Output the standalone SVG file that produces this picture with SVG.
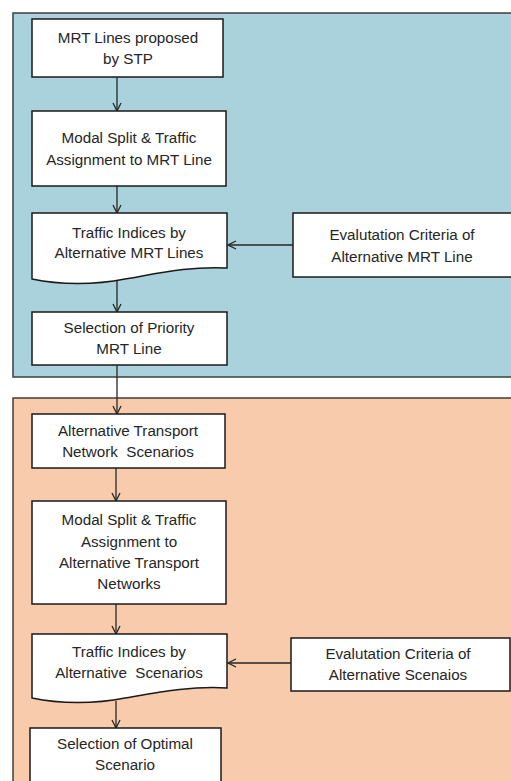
<svg xmlns="http://www.w3.org/2000/svg" width="511" height="781" viewBox="0 0 511 781">
  <defs>
    <marker id="arrow" viewBox="0 0 10 10" refX="9" refY="5" markerWidth="10" markerHeight="10" markerUnits="userSpaceOnUse" orient="auto">
      <path d="M1,1 L9,5 L1,9" fill="none" stroke="#262626" stroke-width="1.3"/>
    </marker>
  </defs>
  <style>
    .panel { stroke: #3f3f3f; stroke-width: 1.5; }
    .box { fill: #ffffff; stroke: #1a1a1a; stroke-width: 1.5; }
    .lbl { font-family: "Liberation Sans", Arial, sans-serif; font-size: 15.2px; fill: #262626; text-anchor: middle; white-space: pre; }
    .conn { fill: none; stroke: #262626; stroke-width: 1.3; marker-end: url(#arrow); }
  </style>
  <rect width="511" height="781" fill="#ffffff"/>

  <!-- stage panels -->
  <rect id="panel-mrt" class="panel" x="13" y="13" width="510" height="364" fill="#a9d2dd"/>
  <rect id="panel-network" class="panel" x="13" y="398" width="510" height="400" fill="#f8cbad"/>

  <!-- connectors -->
  <g id="connectors">
    <line class="conn" x1="117" y1="77" x2="117" y2="111"/>
    <line class="conn" x1="117" y1="186" x2="117" y2="213"/>
    <line class="conn" x1="293" y1="245" x2="228" y2="245"/>
    <line class="conn" x1="117" y1="281" x2="117" y2="312"/>
    <line class="conn" x1="117" y1="365" x2="117" y2="414"/>
    <line class="conn" x1="116" y1="468" x2="116" y2="501"/>
    <line class="conn" x1="116" y1="604" x2="116" y2="634"/>
    <line class="conn" x1="291" y1="663" x2="228" y2="663"/>
    <line class="conn" x1="116" y1="701" x2="116" y2="728"/>
  </g>

  <g id="mrt-lines-proposed">
    <rect class="box" x="32" y="19" width="191" height="58"/>
    <text class="lbl" x="128" y="43">MRT Lines proposed</text>
    <text class="lbl" x="128" y="64">by STP</text>
  </g>

  <g id="modal-split-mrt">
    <rect class="box" x="32" y="111" width="194" height="75"/>
    <text class="lbl" x="129" y="143">Modal Split &amp; Traffic</text>
    <text class="lbl" x="129" y="165">Assignment to MRT Line</text>
  </g>

  <g id="traffic-indices-mrt">
    <path class="box" d="M32,213 H227 V268 C190,266 160,273 125,279 C95,285 60,285 32,279 Z"/>
    <text class="lbl" x="129" y="238">Traffic Indices by</text>
    <text class="lbl" x="129" y="258">Alternative MRT Lines</text>
  </g>

  <g id="evaluation-mrt">
    <rect class="box" x="293" y="213" width="220" height="64"/>
    <text class="lbl" x="402" y="240">Evalutation Criteria of</text>
    <text class="lbl" x="402" y="262">Alternative MRT Line</text>
  </g>

  <g id="priority-mrt">
    <rect class="box" x="32" y="312" width="195" height="53"/>
    <text class="lbl" x="129" y="333">Selection of Priority</text>
    <text class="lbl" x="129" y="354">MRT Line</text>
  </g>

  <g id="network-scenarios">
    <rect class="box" x="32" y="414" width="193" height="54"/>
    <text class="lbl" x="128" y="436">Alternative Transport</text>
    <text class="lbl" x="128" y="457">Network  Scenarios</text>
  </g>

  <g id="modal-split-networks">
    <rect class="box" x="32" y="501" width="194" height="103"/>
    <text class="lbl" x="129" y="525">Modal Split &amp; Traffic</text>
    <text class="lbl" x="129" y="547">Assignment to</text>
    <text class="lbl" x="129" y="568">Alternative Transport</text>
    <text class="lbl" x="129" y="589">Networks</text>
  </g>

  <g id="traffic-indices-scenarios">
    <path class="box" d="M32,634 H227 V688 C190,686 160,692 125,698 C95,704 60,704 32,698 Z"/>
    <text class="lbl" x="129" y="657">Traffic Indices by</text>
    <text class="lbl" x="129" y="678">Alternative  Scenarios</text>
  </g>

  <g id="evaluation-scenarios">
    <rect class="box" x="291" y="638" width="219" height="53"/>
    <text class="lbl" x="398" y="659">Evalutation Criteria of</text>
    <text class="lbl" x="398" y="680">Alternative Scenaios</text>
  </g>

  <g id="optimal-scenario">
    <rect class="box" x="30" y="728" width="191" height="70"/>
    <text class="lbl" x="125" y="749">Selection of Optimal</text>
    <text class="lbl" x="125" y="770">Scenario</text>
  </g>
</svg>
